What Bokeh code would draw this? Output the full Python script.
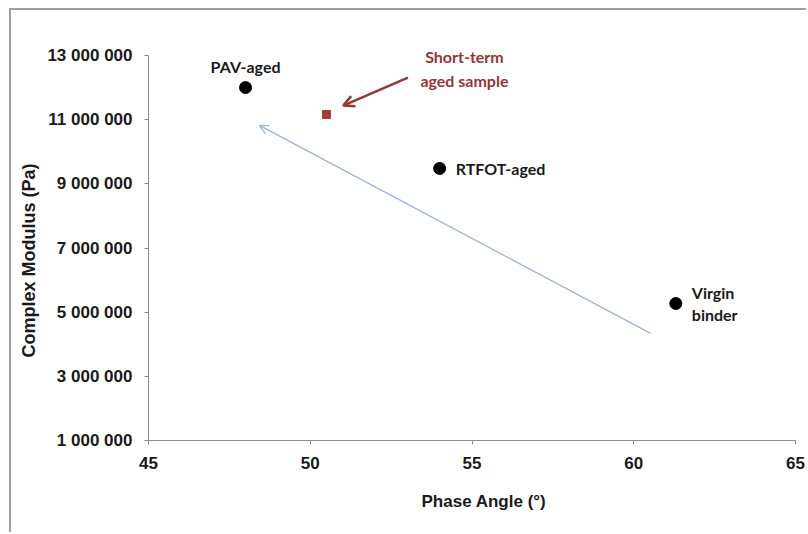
from bokeh.plotting import figure
from bokeh.models import (ColumnDataSource, FixedTicker, Range1d, Arrow, OpenHead, Label, Title)
from bokeh.core.properties import value
from bokeh.embed import file_html
from bokeh.resources import INLINE

# ---- data ----
samples = ["PAV-aged", "RTFOT-aged", "Virgin\nbinder"]
phase_angle = [48.0, 54.0, 61.3]
complex_modulus = [12_000_000, 9_480_000, 5_270_000]

short_term_label = "Short-term\naged sample"
short_term_phase = [50.5]
short_term_modulus = [11_160_000]

# trend arrow (tail -> head) and annotation arrow (tail -> head)
trend_arrow = [60.52, 4_340_000, 48.43, 10_820_000]
note_arrow = [53.02, 12_310_000, 51.02, 11_440_000]

x_ticks = [45, 50, 55, 60, 65]
y_ticks = [1_000_000, 3_000_000, 5_000_000, 7_000_000, 9_000_000, 11_000_000, 13_000_000]
y_tick_labels = ["1 000 000", "3 000 000", "5 000 000", "7 000 000", "9 000 000", "11 000 000", "13 000 000"]
x_lo, x_hi = 45, 65
y_lo, y_hi = 1_000_000, 13_000_000

# ---- layout (pixels) ----
W, H = 797, 524
AXIS_TOP, AXIS_BOTTOM = 47, 432          # where y_hi / y_lo sit on the canvas
FRAME_TOP = 17                           # frame extends above the axis so labels are not clipped
px_per_unit = (AXIS_BOTTOM - AXIS_TOP) / (y_hi - y_lo)
y_end = y_hi + (AXIS_TOP - FRAME_TOP) / px_per_unit

p = figure(width=W, height=H, output_backend="svg", toolbar_location=None,
           x_range=Range1d(x_lo, x_hi), y_range=Range1d(y_lo, y_end),
           min_border_left=136, min_border_right=W - 784,
           min_border_top=FRAME_TOP, min_border_bottom=H - AXIS_BOTTOM)
p.styles = {"margin-top": "8px", "margin-left": "9px",
            "border-left": "2px solid #a0a0a0",
            "background-color": "white",
            "box-shadow": "inset 0px 2px 0px 0px #a0a0a0"}
p.border_fill_color = None
p.outline_line_color = None
p.xgrid.visible = False
p.ygrid.visible = False
p.background_fill_color = "white"

AX = "#8c8c8c"
for ax in (p.xaxis[0], p.yaxis[0]):
    ax.axis_line_color = AX
    ax.major_tick_line_color = AX
    ax.minor_tick_line_color = None
    ax.major_tick_in = 0
    ax.major_tick_out = 4
    ax.major_label_text_font = "Liberation Sans"
    ax.major_label_text_font_style = "bold"
    ax.major_label_text_font_size = "17px"
    ax.major_label_text_color = "#1a1a1a"
    ax.major_label_standoff = 12

p.yaxis.bounds = (y_lo, y_hi)
p.xaxis.ticker = FixedTicker(ticks=x_ticks)
p.yaxis.ticker = FixedTicker(ticks=y_ticks)
p.yaxis.major_label_overrides = {t: s for t, s in zip(y_ticks, y_tick_labels)}

p.add_layout(Title(text="Complex Modulus (Pa)", align="left", offset=83,
                   text_font="Liberation Sans", text_font_style="bold",
                   text_font_size="18px", text_color="#1a1a1a", standoff=11), "left")
p.add_layout(Title(text="Phase Angle (°)", align="left", offset=273,
                   text_font="Liberation Sans", text_font_style="bold",
                   text_font_size="17px", text_color="#1a1a1a", standoff=36), "below")

# trend arrow
p.add_layout(Arrow(end=OpenHead(size=9, line_color="#9fb3d6", line_width=1.3),
                   x_start=trend_arrow[0], y_start=trend_arrow[1],
                   x_end=trend_arrow[2], y_end=trend_arrow[3],
                   line_color="#9fb3d6", line_width=1.3))

# annotation arrow
p.add_layout(Arrow(end=OpenHead(size=11, line_color="#953735", line_width=2.5),
                   x_start=note_arrow[0], y_start=note_arrow[1],
                   x_end=note_arrow[2], y_end=note_arrow[3],
                   line_color="#953735", line_width=2.5))

src = ColumnDataSource(dict(x=phase_angle, y=complex_modulus, name=samples))
p.scatter("x", "y", source=src, size=12, color="black")

p.scatter(short_term_phase, short_term_modulus, marker="square", size=8, color="#a33a3c")

LF = "Lato"
p.add_layout(Label(x=phase_angle[0], y=complex_modulus[0], text=samples[0],
                   text_font=LF, text_font_style="bold", text_font_size="16px",
                   text_align="center", text_baseline="middle",
                   y_offset=21, text_color="#1a1a1a"))
oth = ColumnDataSource(dict(x=phase_angle[1:], y=complex_modulus[1:], name=samples[1:]))
p.text("x", "y", text="name", source=oth, text_font=value(LF), text_font_style="bold",
       text_font_size="16px", text_align="left", text_baseline="middle",
       x_offset=16, text_color="#1a1a1a", text_line_height=1.2)
p.add_layout(Label(x=short_term_phase[0], y=short_term_modulus[0], text=short_term_label,
                   text_font=LF, text_font_style="bold", text_font_size="16px",
                   text_align="center", text_baseline="middle",
                   x_offset=138, y_offset=46, text_color="#943634", text_line_height=1.25))

open("out.html", "w").write(file_html(p, INLINE))
